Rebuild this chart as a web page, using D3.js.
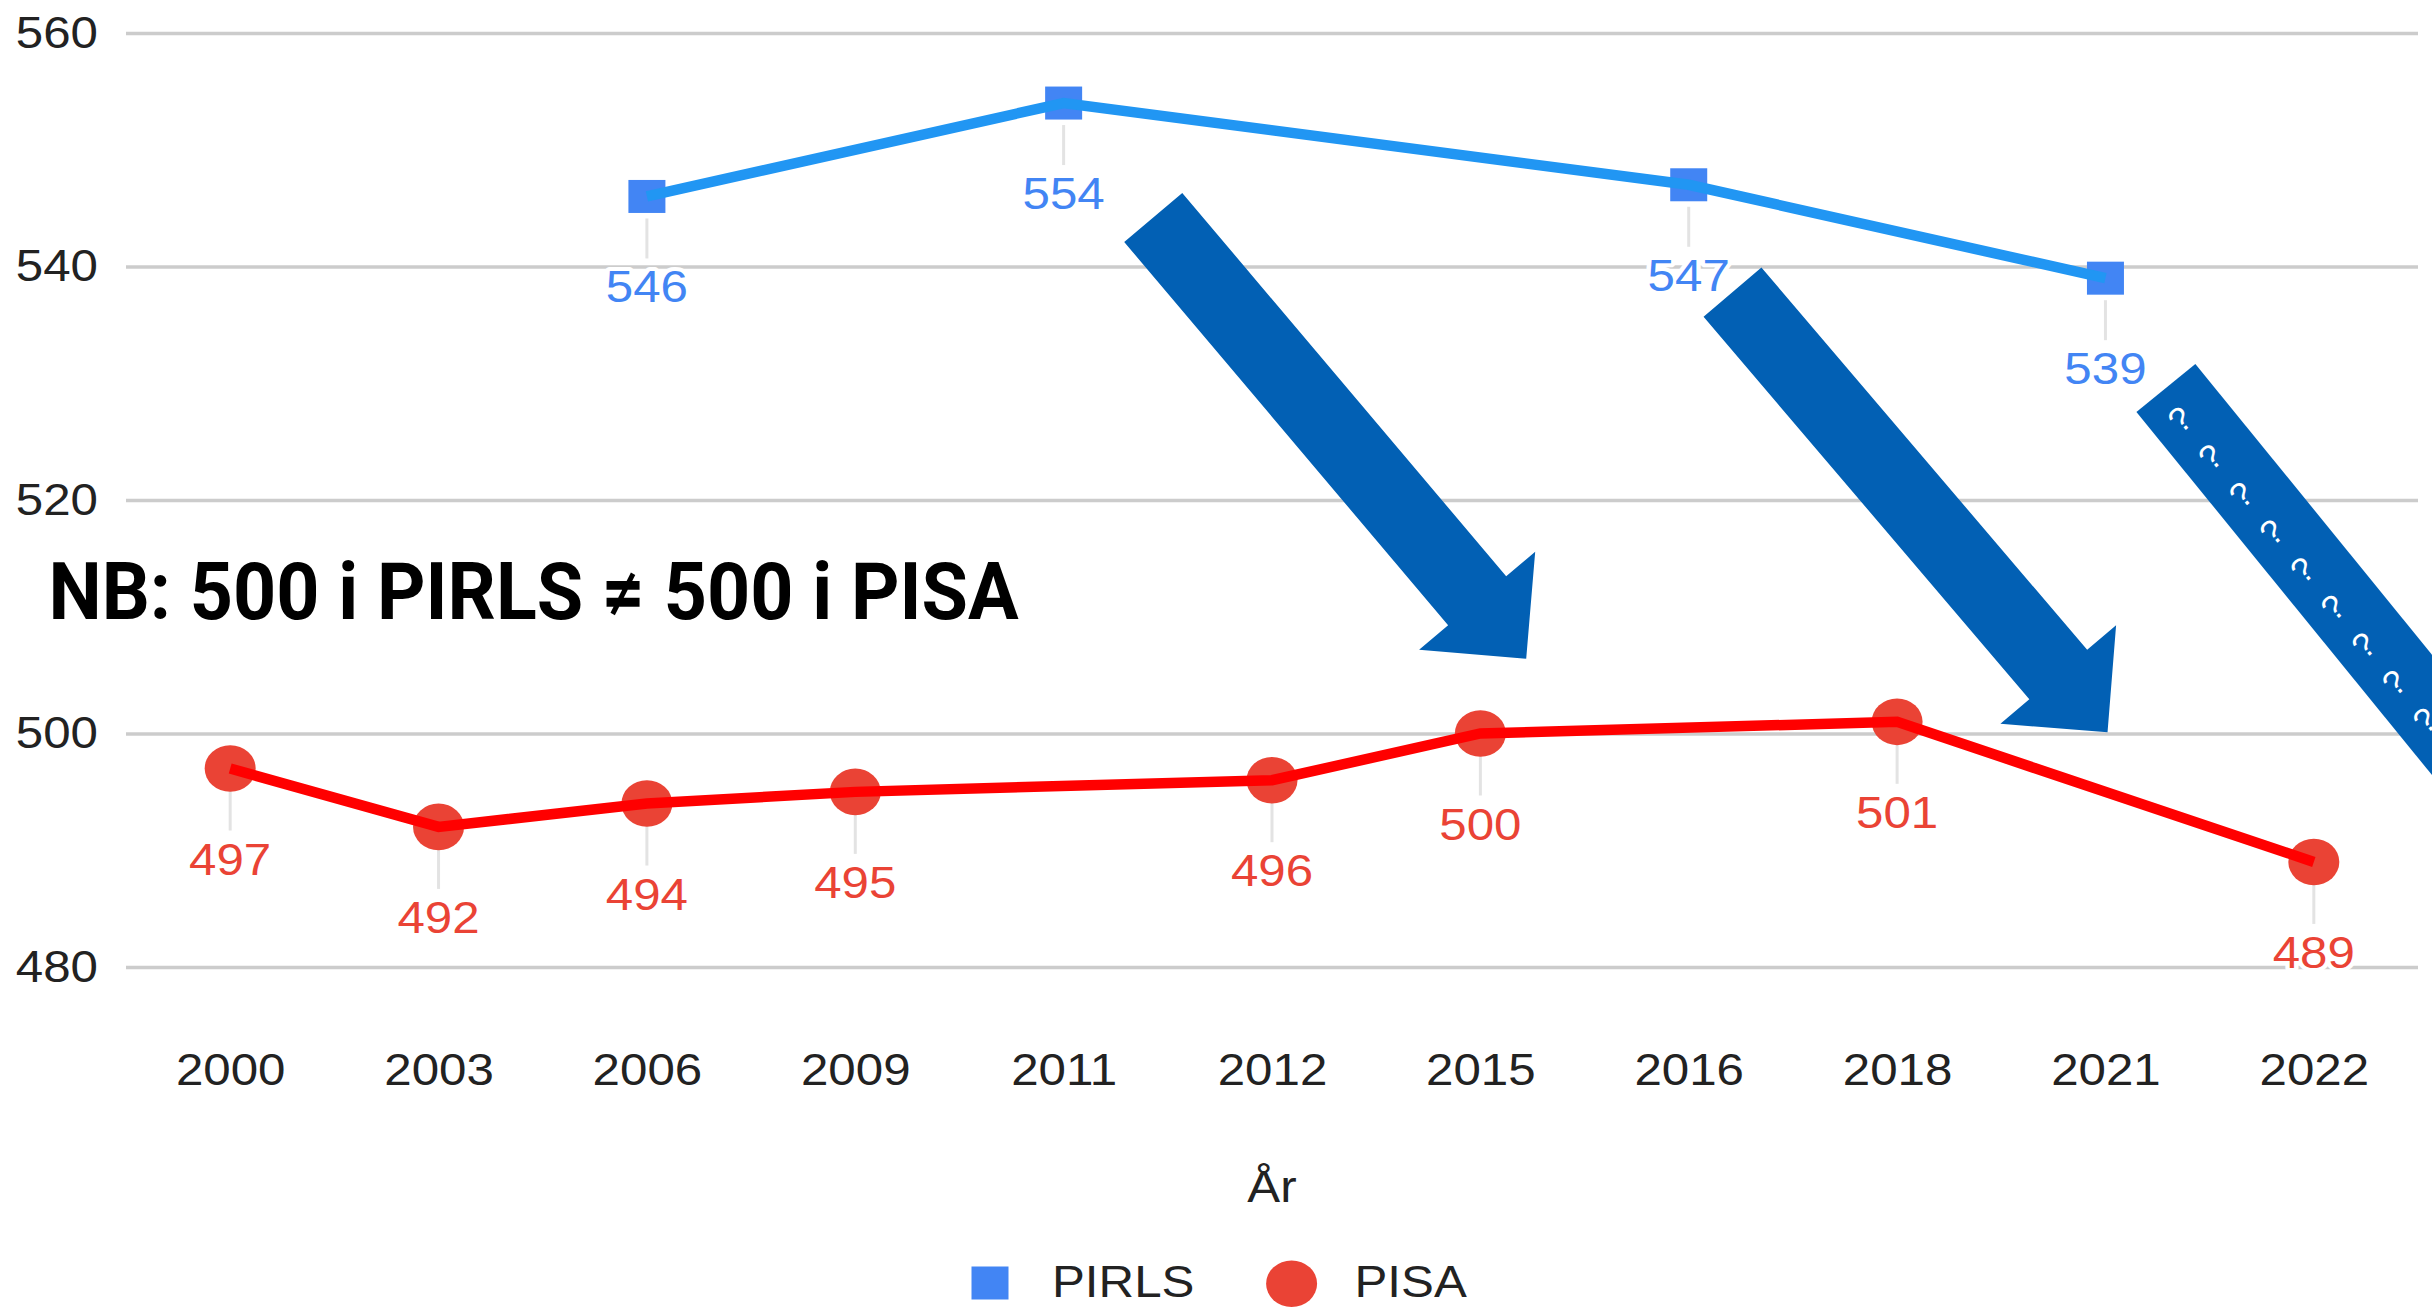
<!DOCTYPE html>
<html>
<head>
<meta charset="utf-8">
<script src="https://cdn.jsdelivr.net/npm/d3@7"></script>
<style>
  html, body { margin: 0; padding: 0; background: #fff; }
  svg { display: block; }
</style>
</head>
<body>
<svg width="2432" height="1308"></svg>
<script>
var years = ["2000", "2003", "2006", "2009", "2011", "2012", "2015", "2016", "2018", "2021", "2022"];
var pirls = [null, null, 546, null, 554, null, null, 547, null, 539, null];
var pisa  = [497, 492, 494, 495, null, 496, 500, null, 501, null, 489];
var yTicks = [480, 500, 520, 540, 560];
var seriesNames = ["PIRLS", "PISA"];
var axisTitle = "År";
var note = "NB: 500 i PIRLS ≠ 500 i PISA";
// annotation arrows, in chart units: [year index, score]
var arrows = [
  { from: [4.43, 544.2], to: [6.22, 506.4], head: true },
  { from: [7.21, 537.8], to: [9.01, 500.1], head: true },
  { from: [9.29, 529.6], to: [11.47, 481.8], head: false, marks: 9 }
];

var blueLine = "#2196f3", blueMark = "#4285f4";
var redLine = "#ff0000", redMark = "#ea4335";
var arrowCol = "#0260b4";
var font = "'Liberation Sans', Arial, sans-serif";
var sx = 1.12; // the source picture is stretched a bit sideways

var svg = d3.select("svg");

var x = d3.scalePoint().domain(years).range([126, 2418]).padding(0.5);
var y = d3.scaleLinear().domain([480, 560]).range([967, 33]);
var xi = function(i) { return x(years[0]) + i * x.step(); };

// grid + y labels
var grid = svg.append("g")
  .attr("transform", "translate(126,0)")
  .call(d3.axisLeft(y).tickValues(yTicks).tickSize(-2292).tickPadding(28));
grid.select(".domain").remove();
grid.attr("font-family", font).attr("font-size", 44);
grid.selectAll("line").attr("stroke", "#cccccc").attr("stroke-width", 3.5);
grid.selectAll("text")
  .attr("x", -28 / sx)
  .attr("transform", "scale(" + sx + ",1)")
  .attr("fill", "#222");

// x labels
var xa = svg.append("g")
  .attr("transform", "translate(0,967)")
  .call(d3.axisBottom(x).tickSize(0));
xa.select(".domain").remove();
xa.attr("font-family", font).attr("font-size", 44);
xa.selectAll("text")
  .attr("y", 118).attr("dy", 0)
  .attr("transform", "scale(" + sx + ",1)")
  .attr("fill", "#222");

svg.append("text")
  .attr("transform", "translate(1272,1202) scale(" + sx + ",1)")
  .attr("text-anchor", "middle")
  .attr("font-family", font).attr("font-size", 44).attr("fill", "#222")
  .text(axisTitle);

function pts(vals) {
  return years.map(function(d, i) { return { year: d, v: vals[i] }; })
    .filter(function(d) { return d.v != null; });
}

var series = [
  { name: seriesNames[0], data: pts(pirls), line: blueLine, mark: blueMark, shape: "square" },
  { name: seriesNames[1], data: pts(pisa), line: redLine, mark: redMark, shape: "circle" }
];

var line = d3.line()
  .x(function(d) { return x(d.year); })
  .y(function(d) { return y(d.v); });

series.forEach(function(s) {
  var g = svg.append("g");

  g.selectAll(".stem").data(s.data).enter().append("line")
    .attr("x1", function(d) { return x(d.year); })
    .attr("x2", function(d) { return x(d.year); })
    .attr("y1", function(d) { return y(d.v) + 22; })
    .attr("y2", function(d) { return y(d.v) + 62; })
    .attr("stroke", "#e3e3e3").attr("stroke-width", 3);

  g.selectAll(".lab").data(s.data).enter().append("text")
    .attr("transform", function(d) {
      return "translate(" + x(d.year) + "," + (y(d.v) + 106) + ") scale(" + sx + ",1)";
    })
    .attr("text-anchor", "middle")
    .attr("font-family", font).attr("font-size", 44)
    .attr("fill", s.mark)
    .attr("stroke", "#fff").attr("stroke-width", 8)
    .attr("stroke-linejoin", "round").attr("paint-order", "stroke")
    .text(function(d) { return d.v; });

  if (s.shape === "square") {
    g.selectAll(".mk").data(s.data).enter().append("rect")
      .attr("x", function(d) { return x(d.year) - 18.5; })
      .attr("y", function(d) { return y(d.v) - 16.5; })
      .attr("width", 37).attr("height", 33)
      .attr("fill", s.mark);
  } else {
    g.selectAll(".mk").data(s.data).enter().append("ellipse")
      .attr("cx", function(d) { return x(d.year); })
      .attr("cy", function(d) { return y(d.v); })
      .attr("rx", 25.5).attr("ry", 23.3)
      .attr("fill", s.mark);
  }

  g.append("path").datum(s.data)
    .attr("d", line)
    .attr("fill", "none")
    .attr("stroke", s.line).attr("stroke-width", 10.5)
    .attr("stroke-linejoin", "miter");
});

// note
svg.append("text")
  .attr("x", 48.6).attr("y", 618.5)
  .attr("font-family", "Roboto, sans-serif").attr("font-weight", 700)
  .attr("font-size", 80)
  .attr("textLength", 970).attr("lengthAdjust", "spacingAndGlyphs")
  .attr("fill", "#000")
  .text(note);

// arrows
arrows.forEach(function(a) {
  var x0 = xi(a.from[0]), y0 = y(a.from[1]);
  var x1 = xi(a.to[0]), y1 = y(a.to[1]);
  var L = Math.hypot(x1 - x0, y1 - y0);
  var ang = Math.atan2(y1 - y0, x1 - x0) * 180 / Math.PI;
  var w = 38, hw = 76, hl = 76;
  var poly = a.head
    ? [[0, -w], [L - hl, -w], [L - hl, -hw], [L, 0], [L - hl, hw], [L - hl, w], [0, w]]
    : [[0, -w], [L, -w], [L, w], [0, w]];
  var g = svg.append("g")
    .attr("transform", "translate(" + x0 + "," + y0 + ") rotate(" + ang + ")");
  g.append("polygon").attr("points", poly.join(" ")).attr("fill", arrowCol);
  if (a.marks) {
    g.selectAll("text").data(d3.range(a.marks)).enter().append("text")
      .attr("transform", function(k) { return "translate(" + (33 + 48.5 * k) + ",9) rotate(-90)"; })
      .attr("text-anchor", "middle").attr("dominant-baseline", "central")
      .attr("font-family", font).attr("font-size", 34)
      .attr("fill", "#fff")
      .text("?");
  }
});

// legend
var leg = svg.append("g").attr("font-family", font).attr("font-size", 44).attr("fill", "#222");
leg.append("rect").attr("x", 971.5).attr("y", 1266.5).attr("width", 37).attr("height", 33).attr("fill", blueMark);
leg.append("text").attr("transform", "translate(1052,1297) scale(" + sx + ",1)").text(seriesNames[0]);
leg.append("ellipse").attr("cx", 1291.6).attr("cy", 1283.7).attr("rx", 25.5).attr("ry", 23.3).attr("fill", redMark);
leg.append("text").attr("transform", "translate(1354.5,1297) scale(" + sx + ",1)").text(seriesNames[1]);
</script>
</body>
</html>
